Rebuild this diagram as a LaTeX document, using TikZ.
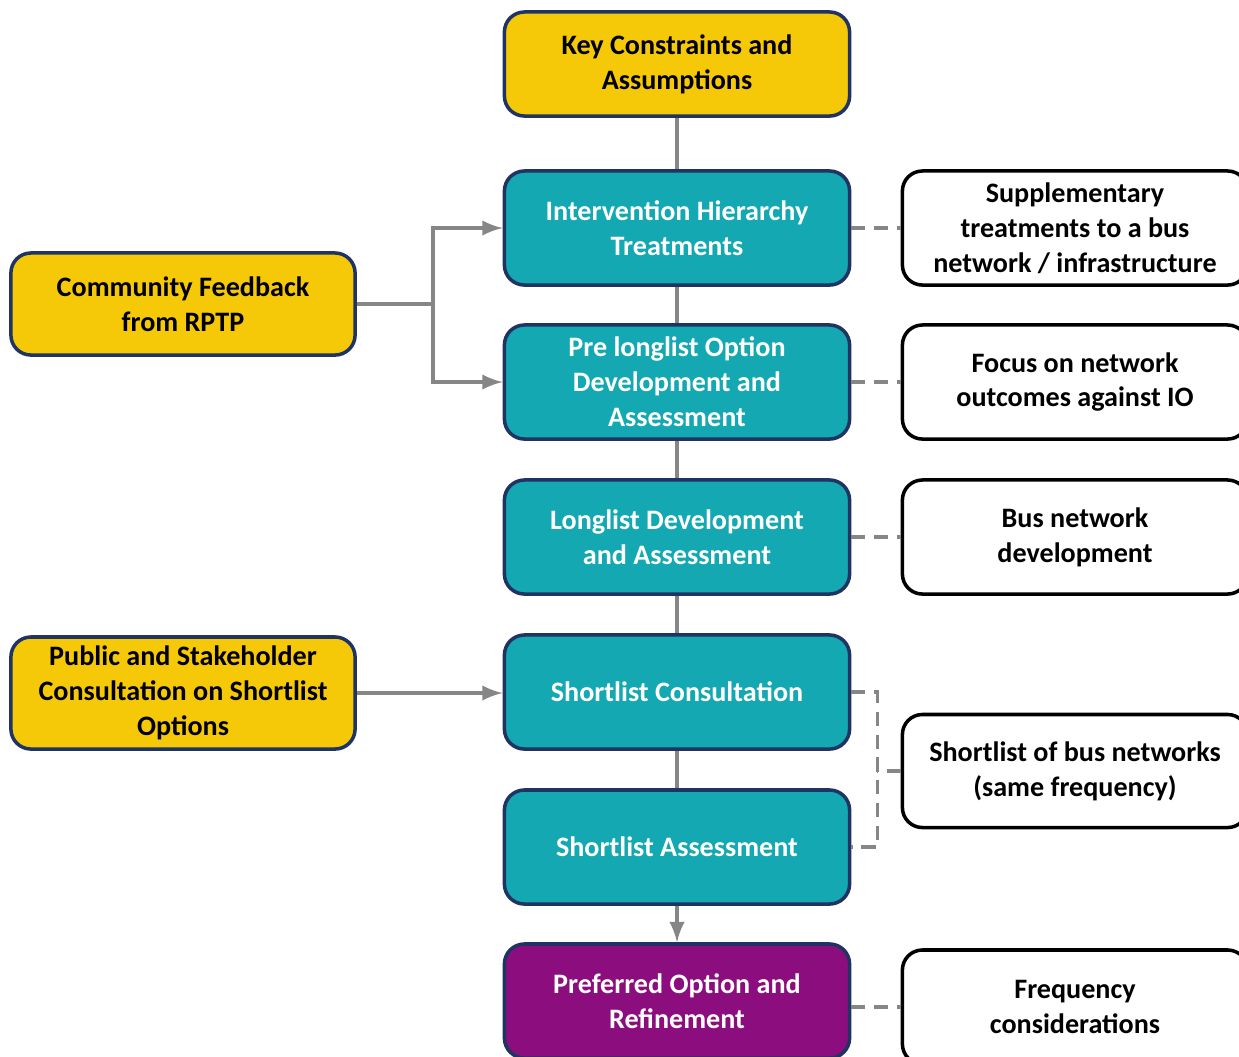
\documentclass[tikz,border=0pt]{standalone}
\usepackage{fontspec}
\setmainfont{Carlito}
\usetikzlibrary{positioning}

\definecolor{keyyellow}{HTML}{F5C808}
\definecolor{stageteal}{HTML}{14A8B2}
\definecolor{prefpurple}{HTML}{8C0E7E}
\definecolor{boxnavy}{HTML}{1F3462}
\definecolor{linkgrey}{HTML}{868686}

\tikzset{
  box/.style={draw=boxnavy, line width=1pt, rounded corners=0.2cm,
    minimum width=3.45cm, minimum height=1.14cm, align=center, inner sep=0pt,
    font=\fontsize{8}{9.9}\selectfont\bfseries},
  input/.style={box, fill=keyyellow},
  stage/.style={box, fill=stageteal, text=white},
  note/.style={box, draw=black, fill=white},
  link/.style={draw=linkgrey, line width=1pt},
  aside/.style={link, dash pattern=on 4pt off 2.5pt}
}

\begin{document}
\begin{tikzpicture}[x=0.01cm, y=-0.01cm]
    \useasboundingbox (0,0) rectangle (1239,1056);
    % Main stages
    \node[input, minimum height=1.04cm] (key) at (677,64) {Key Constraints and\\Assumptions};
    \node[stage] (interv)  at (677,228)  {Intervention Hierarchy\\Treatments};
    \node[stage] (prelong) at (677,382)  {Pre longlist Option\\Development and\\Assessment};
    \node[stage] (longlist) at (677,537) {Longlist Development\\and Assessment};
    \node[stage] (consult) at (677,692)  {Shortlist Consultation};
    \node[stage] (assess)  at (677,847)  {Shortlist Assessment};
    \node[stage, fill=prefpurple] (pref) at (677,1001) {Preferred Option and\\Refinement};

    % Inputs on the left
    \node[input, minimum width=3.44cm, minimum height=1.02cm] (community) at (183,304) {Community Feedback\\from RPTP};
    \node[input, minimum width=3.44cm, minimum height=1.12cm] (public) at (183,693) {Public and Stakeholder\\Consultation on Shortlist\\Options};

    % Notes on the right
    \node[note] (supp)  at (1075,228) {Supplementary\\treatments to a bus\\network / infrastructure};
    \node[note] (focus) at (1075,382) {Focus on network\\outcomes against IO};
    \node[note] (busnet) at (1075,537) {Bus network\\development};
    \node[note, minimum height=1.13cm] (shortnote) at (1075,771) {Shortlist of bus networks\\(same frequency)};
    \node[note] (freq) at (1075,1007) {Frequency\\considerations};

    % Stage links
    \draw[link] (key) -- (interv);
    \draw[link] (interv) -- (prelong);
    \draw[link] (prelong) -- (longlist);
    \draw[link] (longlist) -- (consult);
    \draw[link] (consult) -- (assess);
    \draw[link, -latex] (assess) -- (pref);

    % Inputs
    \draw[link] (community.east) -- ++(76,0) coordinate (split);
    \draw[link, -latex] (split) |- (interv.west);
    \draw[link, -latex] (split) |- (prelong.west);
    \draw[link, -latex] (public.east) -- (public.east -| consult.west);

    % Notes
    \draw[aside] (interv.east) -- (supp.west);
    \draw[aside] (prelong.east) -- (focus.west);
    \draw[aside] (longlist.east) -- (busnet.west);
    \draw[aside] (consult.east) -- ++(26,0) coordinate (brk) |- (assess.east);
    \draw[aside] (shortnote.west) -- (shortnote.west -| brk);
    \draw[aside] (pref.east |- freq.west) -- (freq.west);
\end{tikzpicture}
\end{document}
